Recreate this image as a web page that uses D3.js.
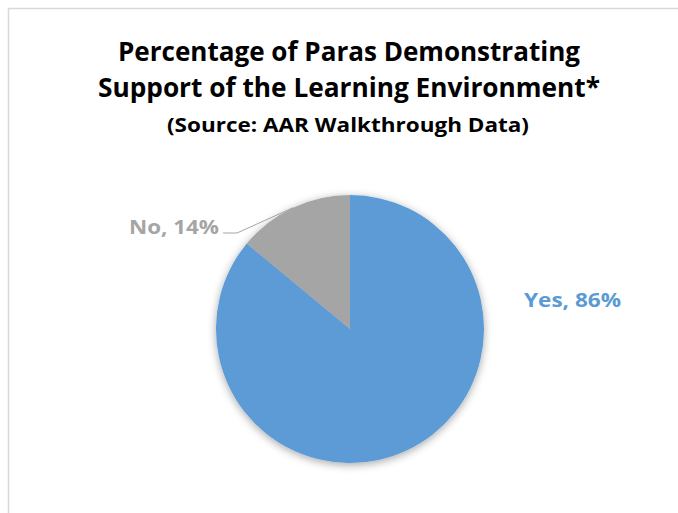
<!DOCTYPE html>
<html>
<head>
<meta charset="utf-8">
<script src="https://cdn.jsdelivr.net/npm/d3@7"></script>
<style>
  html, body { margin: 0; padding: 0; background: #fff; }
  svg { display: block; }
  text { font-family: "Open Sans", Lato, sans-serif; font-weight: 700; }
</style>
</head>
<body>
<svg id="chart" width="678" height="513"></svg>
<script>
// Slices of the pie, in drawing order (clockwise from 12 o'clock)
const categories = ["Yes", "No"];
const values = [86, 14];
const colors = ["#5B9BD5", "#A5A5A5"];
const titleLines = ["Percentage of Paras Demonstrating", "Support of the Learning Environment*"];
const subtitle = "(Source: AAR Walkthrough Data)";

const cx = 350, cy = 329, radius = 134;

const svg = d3.select("#chart");

// Chart area frame
svg.append("rect")
  .attr("x", 8.5).attr("y", 8.5)
  .attr("width", 700).attr("height", 600)
  .attr("fill", "#fff")
  .attr("stroke", "#d9d9d9")
  .attr("stroke-width", 1.5);

// Soft shadow under the pie
const defs = svg.append("defs");
const f = defs.append("filter").attr("id", "pieShadow")
  .attr("x", "-20%").attr("y", "-20%").attr("width", "140%").attr("height", "140%");
f.append("feDropShadow")
  .attr("dx", 0).attr("dy", 2)
  .attr("stdDeviation", 4)
  .attr("flood-color", "#000")
  .attr("flood-opacity", 0.35);

// Titles
const titleWidths = [462, 502];
const title = svg.append("g").attr("text-anchor", "middle");
title.selectAll("text.t")
  .data(titleLines)
  .join("text")
  .attr("class", "t")
  .attr("x", 349)
  .attr("y", (d, i) => 61 + i * 36)
  .attr("font-size", 26)
  .attr("fill", "#000")
  .attr("textLength", (d, i) => titleWidths[i])
  .attr("lengthAdjust", "spacingAndGlyphs")
  .text(d => d);
title.append("text")
  .attr("x", 348).attr("y", 132)
  .attr("font-size", 19)
  .attr("fill", "#000")
  .attr("textLength", 362)
  .attr("lengthAdjust", "spacingAndGlyphs")
  .text(subtitle);

// Pie
const data = categories.map((c, i) => ({ category: c, value: values[i], color: colors[i] }));
const pie = d3.pie().sort(null).value(d => d.value);
const arcs = pie(data);
const arc = d3.arc().innerRadius(0).outerRadius(radius);

const g = svg.append("g").attr("transform", `translate(${cx},${cy})`);
g.append("g").attr("filter", "url(#pieShadow)")
  .selectAll("path")
  .data(arcs)
  .join("path")
  .attr("d", arc)
  .attr("fill", d => d.data.color);

// Labels
const yesArc = arcs[0], noArc = arcs[1];

// "Yes" label to the right of the pie
g.append("text")
  .attr("x", 174).attr("y", -22)
  .attr("font-size", 20)
  .attr("fill", yesArc.data.color)
  .attr("textLength", 97)
  .attr("lengthAdjust", "spacingAndGlyphs")
  .text(`${yesArc.data.category}, ${yesArc.data.value}%`);

// "No" label with a leader line to its slice
const mid = (noArc.startAngle + noArc.endAngle) / 2;
const edge = [Math.sin(mid) * radius, -Math.cos(mid) * radius];
const elbow = [-113, -96];
const lineEnd = [-127, -96];
g.append("polyline")
  .attr("points", [edge, elbow, lineEnd].map(p => p.join(",")).join(" "))
  .attr("fill", "none")
  .attr("stroke", "#A5A5A5")
  .attr("stroke-width", 1);
g.append("text")
  .attr("x", -131).attr("y", -95)
  .attr("text-anchor", "end")
  .attr("font-size", 20)
  .attr("fill", noArc.data.color)
  .attr("textLength", 90)
  .attr("lengthAdjust", "spacingAndGlyphs")
  .text(`${noArc.data.category}, ${noArc.data.value}%`);
</script>
</body>
</html>
